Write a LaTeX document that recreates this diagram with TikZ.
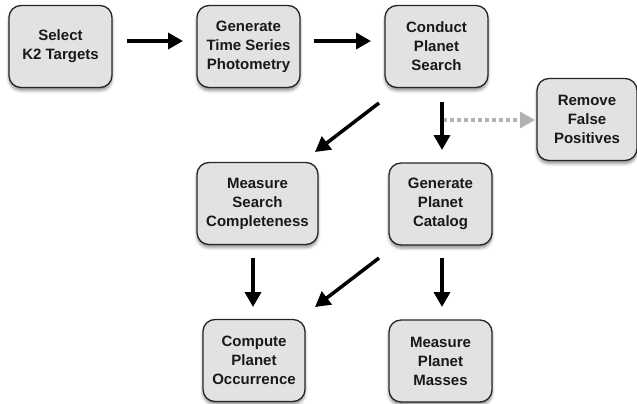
\documentclass[tikz,border=0pt]{standalone}
\usepackage{fontspec}
\setmainfont{Liberation Sans}
\usetikzlibrary{arrows.meta,shadows.blur}
\definecolor{boxgray}{RGB}{226,226,228}
\definecolor{lgray}{RGB}{178,178,178}
\begin{document}
\begin{tikzpicture}[x=1pt,y=-1pt,
  box/.style={draw=black!85, line width=1.3pt, rounded corners=12pt, fill=boxgray,
    minimum width=#1, minimum height=82pt, inner sep=0pt, align=center,
    text=black!90, font=\fontsize{15}{19}\selectfont\bfseries,
    blur shadow={shadow xshift=0pt, shadow yshift=-3pt, shadow blur radius=3pt, shadow opacity=45}},
  box/.default=103pt,
  arr/.style={line width=3.5pt, -{Triangle[length=15pt,width=16pt]}},
  garr/.style={line width=3.5pt, draw=lgray, dash pattern=on 4pt off 3pt,
    -{Triangle[length=15pt,width=16pt,fill=lgray]}}
]
\useasboundingbox (0,0) rectangle (637,404);

\node[box] (A) at (60.5,46.5) {Select\\K2 Targets};
\node[box] (B) at (248.5,46.5) {Generate\\Time Series\\Photometry};
\node[box] (C) at (436.5,46.5) {Conduct\\Planet\\Search};
\node[box=100pt] (D) at (587,119.5) {Remove\\False\\Positives};
\node[box=121pt] (E) at (257.5,203.5) {Measure\\Search\\Completeness};
\node[box] (F) at (440.5,204) {Generate\\Planet\\Catalog};
\node[box=102pt] (G) at (254,360.5) {Compute\\Planet\\Occurrence};
\node[box] (H) at (440.5,361) {Measure\\Planet\\Masses};

% arrow end points
\coordinate (ab1) at (127,41);  \coordinate (ab2) at (183,41);
\coordinate (bc1) at (314,41);  \coordinate (bc2) at (371,41);
\coordinate (ce1) at (379,103); \coordinate (ce2) at (315,152);
\coordinate (cf1) at (442,102); \coordinate (cf2) at (442,150);
\coordinate (cd1) at (443,120); \coordinate (cd2) at (535,120);
\coordinate (eg1) at (253,258); \coordinate (eg2) at (253,307);
\coordinate (fh1) at (442,258); \coordinate (fh2) at (442,307);
\coordinate (fg1) at (379,258); \coordinate (fg2) at (315,307);

\draw[garr] (cd1) -- (cd2);
\draw[arr] (ab1) -- (ab2);
\draw[arr] (bc1) -- (bc2);
\draw[arr] (ce1) -- (ce2);
\draw[arr] (cf1) -- (cf2);
\draw[arr] (eg1) -- (eg2);
\draw[arr] (fh1) -- (fh2);
\draw[arr] (fg1) -- (fg2);
\end{tikzpicture}
\end{document}
